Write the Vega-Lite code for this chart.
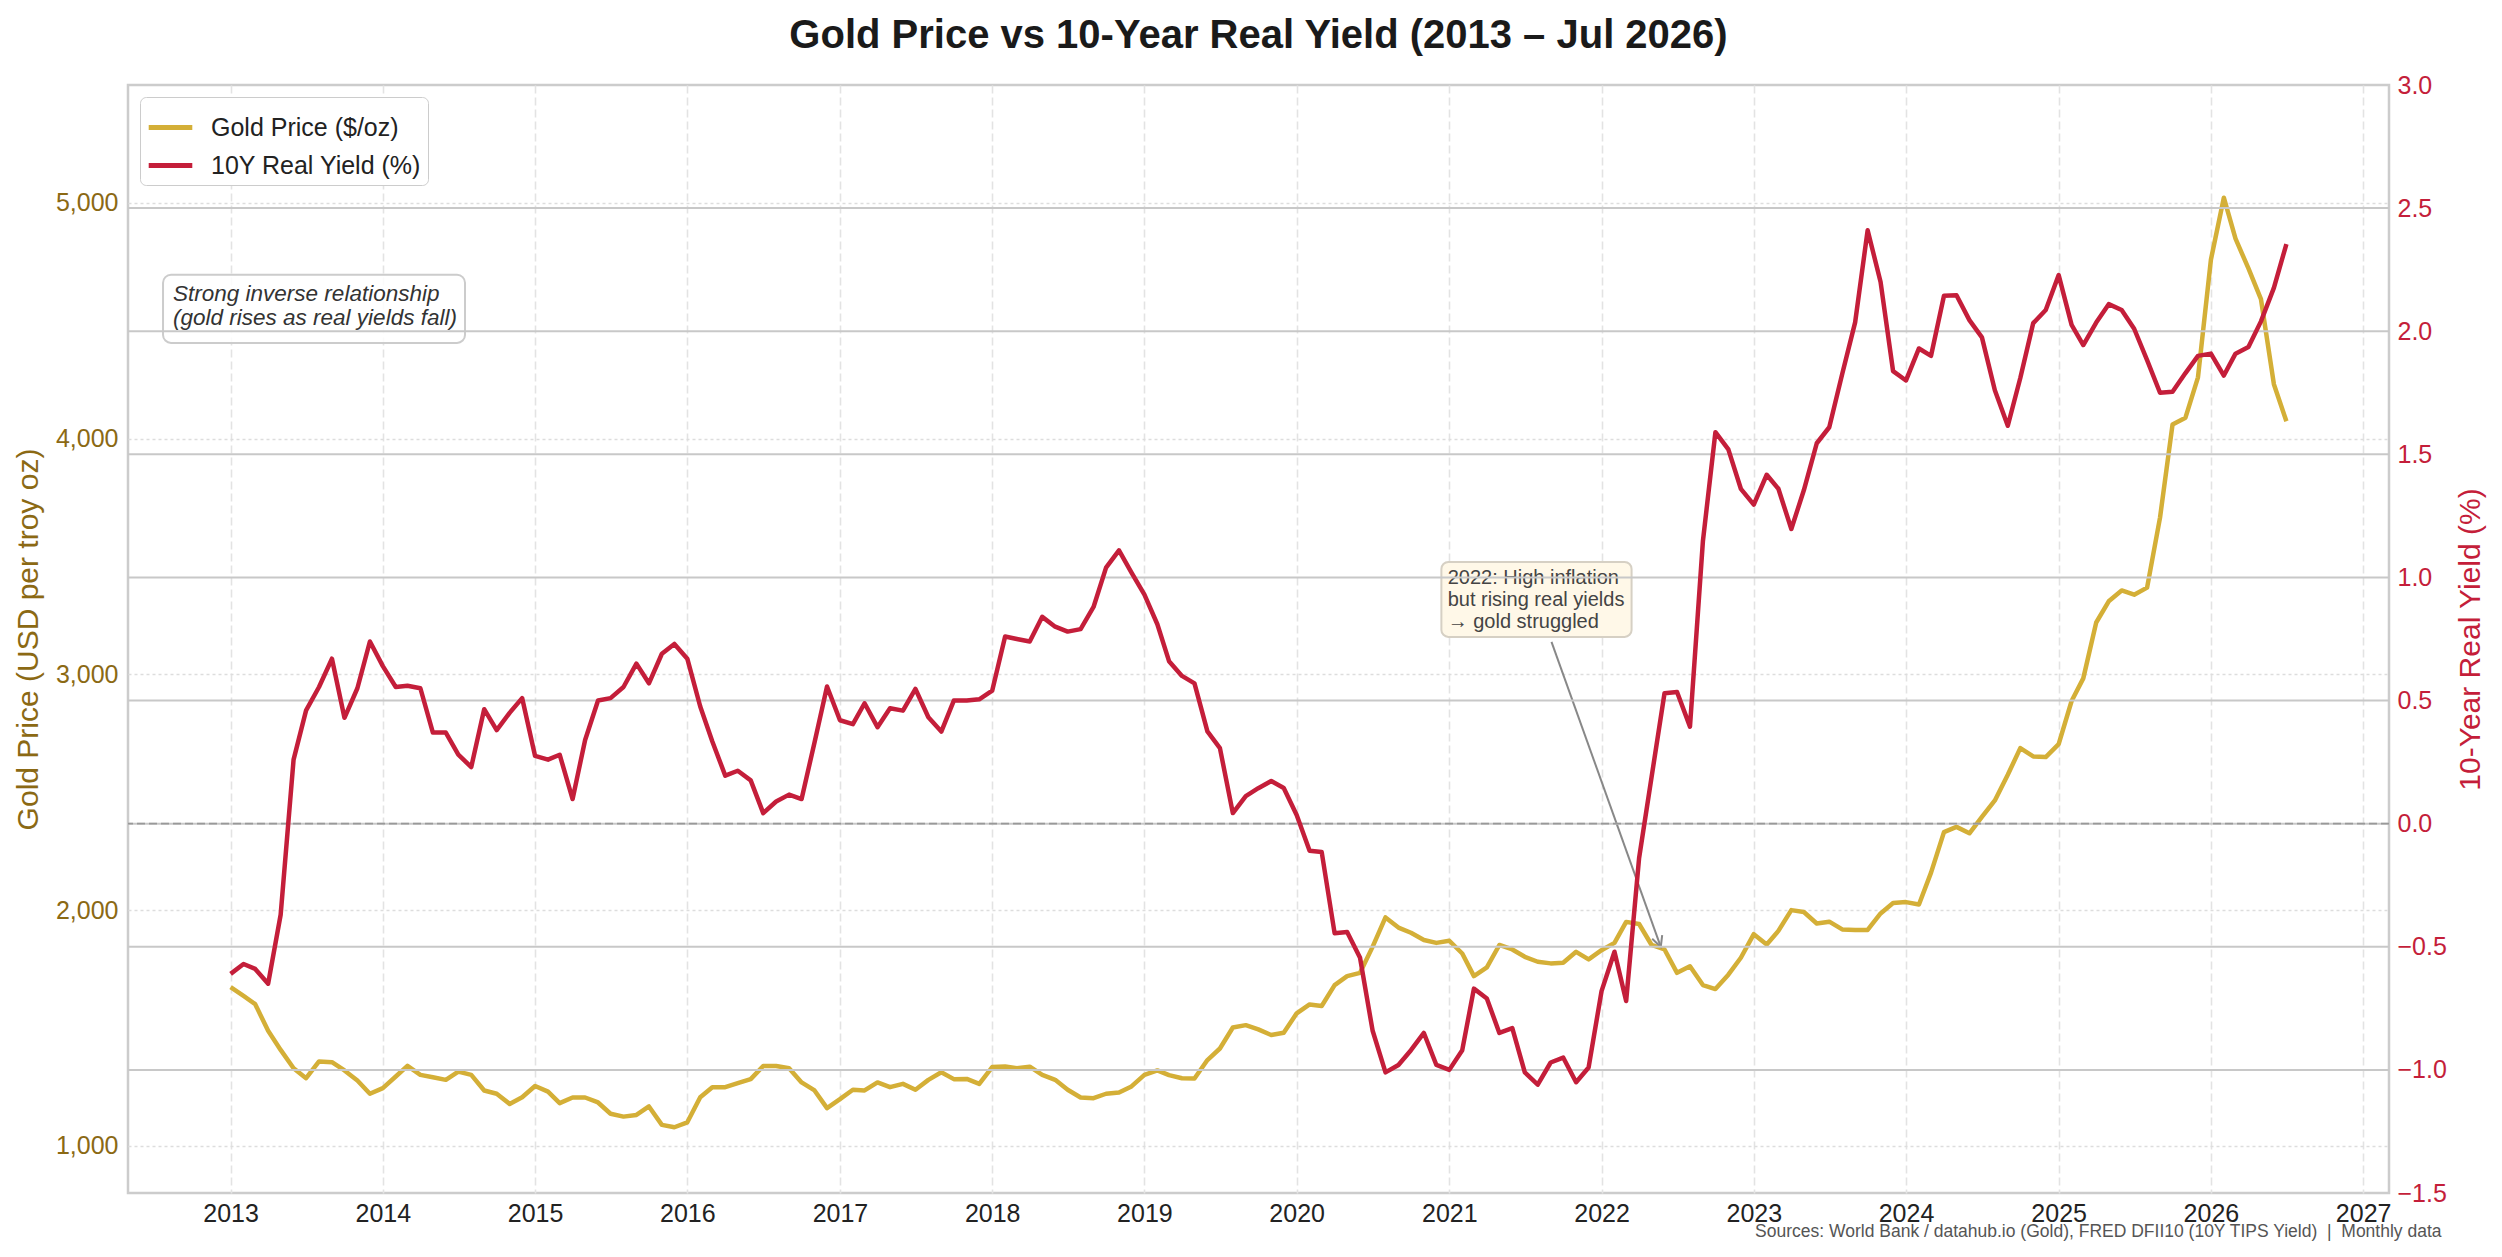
{
  "$schema": "https://vega.github.io/schema/vega-lite/v6.json",
  "width": 2261,
  "height": 1108,
  "autosize": {"type": "none"},
  "padding": {"left": 128, "top": 85, "right": 113, "bottom": 64},
  "background": "white",
  "title": {
    "text": "Gold Price vs 10-Year Real Yield (2013 – Jul 2026)",
    "font": "Liberation Sans",
    "fontSize": 40,
    "fontWeight": "bold",
    "color": "#1a1a1a",
    "anchor": "middle",
    "frame": "group",
    "offset": 17
  },
  "config": {
    "font": "Liberation Sans",
    "view": {"stroke": "#cccccc", "strokeWidth": 2.5},
    "axis": {
      "domain": false,
      "ticks": false,
      "labelFontSize": 25,
      "labelPadding": 8,
      "labelFlush": false,
      "titleFontSize": 30,
      "titleFontWeight": "normal",
      "grid": false
    }
  },
  "data": {
    "values": [
      {"date": "2013/01/01", "gold": 1673, "yld": -0.61},
      {"date": "2013/02/01", "gold": 1636, "yld": -0.57},
      {"date": "2013/03/01", "gold": 1601, "yld": -0.59},
      {"date": "2013/04/01", "gold": 1488, "yld": -0.65},
      {"date": "2013/05/01", "gold": 1407, "yld": -0.37},
      {"date": "2013/06/01", "gold": 1329, "yld": 0.26},
      {"date": "2013/07/01", "gold": 1287, "yld": 0.46},
      {"date": "2013/08/01", "gold": 1358, "yld": 0.555},
      {"date": "2013/09/01", "gold": 1355, "yld": 0.67},
      {"date": "2013/10/01", "gold": 1320, "yld": 0.43},
      {"date": "2013/11/01", "gold": 1277, "yld": 0.55},
      {"date": "2013/12/01", "gold": 1221, "yld": 0.74},
      {"date": "2014/01/01", "gold": 1245, "yld": 0.64},
      {"date": "2014/02/01", "gold": 1294, "yld": 0.555},
      {"date": "2014/03/01", "gold": 1339, "yld": 0.56},
      {"date": "2014/04/01", "gold": 1301, "yld": 0.55},
      {"date": "2014/05/01", "gold": 1291, "yld": 0.37},
      {"date": "2014/06/01", "gold": 1280, "yld": 0.37},
      {"date": "2014/07/01", "gold": 1315, "yld": 0.28},
      {"date": "2014/08/01", "gold": 1301, "yld": 0.23},
      {"date": "2014/09/01", "gold": 1235, "yld": 0.465},
      {"date": "2014/10/01", "gold": 1221, "yld": 0.38},
      {"date": "2014/11/01", "gold": 1178, "yld": 0.45},
      {"date": "2014/12/01", "gold": 1206, "yld": 0.51},
      {"date": "2015/01/01", "gold": 1254, "yld": 0.275},
      {"date": "2015/02/01", "gold": 1230, "yld": 0.26},
      {"date": "2015/03/01", "gold": 1181, "yld": 0.28},
      {"date": "2015/04/01", "gold": 1205, "yld": 0.1},
      {"date": "2015/05/01", "gold": 1205, "yld": 0.34},
      {"date": "2015/06/01", "gold": 1184, "yld": 0.5},
      {"date": "2015/07/01", "gold": 1136, "yld": 0.51},
      {"date": "2015/08/01", "gold": 1124, "yld": 0.555},
      {"date": "2015/09/01", "gold": 1131, "yld": 0.65},
      {"date": "2015/10/01", "gold": 1167, "yld": 0.57},
      {"date": "2015/11/01", "gold": 1089, "yld": 0.69},
      {"date": "2015/12/01", "gold": 1079, "yld": 0.73},
      {"date": "2016/01/01", "gold": 1100, "yld": 0.67},
      {"date": "2016/02/01", "gold": 1206, "yld": 0.476},
      {"date": "2016/03/01", "gold": 1249, "yld": 0.334},
      {"date": "2016/04/01", "gold": 1249, "yld": 0.195},
      {"date": "2016/05/01", "gold": 1266, "yld": 0.215},
      {"date": "2016/06/01", "gold": 1283, "yld": 0.176},
      {"date": "2016/07/01", "gold": 1339, "yld": 0.043},
      {"date": "2016/08/01", "gold": 1339, "yld": 0.09},
      {"date": "2016/09/01", "gold": 1329, "yld": 0.118},
      {"date": "2016/10/01", "gold": 1269, "yld": 0.1},
      {"date": "2016/11/01", "gold": 1235, "yld": 0.33},
      {"date": "2016/12/01", "gold": 1160, "yld": 0.557},
      {"date": "2017/01/01", "gold": 1198, "yld": 0.42},
      {"date": "2017/02/01", "gold": 1238, "yld": 0.404},
      {"date": "2017/03/01", "gold": 1235, "yld": 0.489},
      {"date": "2017/04/01", "gold": 1269, "yld": 0.392},
      {"date": "2017/05/01", "gold": 1249, "yld": 0.469},
      {"date": "2017/06/01", "gold": 1263, "yld": 0.459},
      {"date": "2017/07/01", "gold": 1238, "yld": 0.547},
      {"date": "2017/08/01", "gold": 1280, "yld": 0.432},
      {"date": "2017/09/01", "gold": 1312, "yld": 0.374},
      {"date": "2017/10/01", "gold": 1283, "yld": 0.5},
      {"date": "2017/11/01", "gold": 1284, "yld": 0.5},
      {"date": "2017/12/01", "gold": 1263, "yld": 0.505},
      {"date": "2018/01/01", "gold": 1334, "yld": 0.54},
      {"date": "2018/02/01", "gold": 1337, "yld": 0.76},
      {"date": "2018/03/01", "gold": 1329, "yld": 0.75},
      {"date": "2018/04/01", "gold": 1336, "yld": 0.74},
      {"date": "2018/05/01", "gold": 1301, "yld": 0.84},
      {"date": "2018/06/01", "gold": 1280, "yld": 0.8},
      {"date": "2018/07/01", "gold": 1238, "yld": 0.78},
      {"date": "2018/08/01", "gold": 1205, "yld": 0.79},
      {"date": "2018/09/01", "gold": 1202, "yld": 0.88},
      {"date": "2018/10/01", "gold": 1221, "yld": 1.04},
      {"date": "2018/11/01", "gold": 1226, "yld": 1.11},
      {"date": "2018/12/01", "gold": 1252, "yld": 1.02},
      {"date": "2019/01/01", "gold": 1301, "yld": 0.93},
      {"date": "2019/02/01", "gold": 1320, "yld": 0.81},
      {"date": "2019/03/01", "gold": 1300, "yld": 0.66},
      {"date": "2019/04/01", "gold": 1287, "yld": 0.6},
      {"date": "2019/05/01", "gold": 1286, "yld": 0.57},
      {"date": "2019/06/01", "gold": 1364, "yld": 0.375},
      {"date": "2019/07/01", "gold": 1413, "yld": 0.307},
      {"date": "2019/08/01", "gold": 1502, "yld": 0.043},
      {"date": "2019/09/01", "gold": 1512, "yld": 0.112},
      {"date": "2019/10/01", "gold": 1494, "yld": 0.144},
      {"date": "2019/11/01", "gold": 1470, "yld": 0.173},
      {"date": "2019/12/01", "gold": 1480, "yld": 0.145},
      {"date": "2020/01/01", "gold": 1562, "yld": 0.035},
      {"date": "2020/02/01", "gold": 1600, "yld": -0.11},
      {"date": "2020/03/01", "gold": 1593, "yld": -0.115},
      {"date": "2020/04/01", "gold": 1682, "yld": -0.445},
      {"date": "2020/05/01", "gold": 1720, "yld": -0.44},
      {"date": "2020/06/01", "gold": 1734, "yld": -0.545},
      {"date": "2020/07/01", "gold": 1844, "yld": -0.84},
      {"date": "2020/08/01", "gold": 1969, "yld": -1.01},
      {"date": "2020/09/01", "gold": 1926, "yld": -0.98},
      {"date": "2020/10/01", "gold": 1904, "yld": -0.92},
      {"date": "2020/11/01", "gold": 1873, "yld": -0.85},
      {"date": "2020/12/01", "gold": 1861, "yld": -0.98},
      {"date": "2021/01/01", "gold": 1870, "yld": -1.0},
      {"date": "2021/02/01", "gold": 1816, "yld": -0.92},
      {"date": "2021/03/01", "gold": 1720, "yld": -0.67},
      {"date": "2021/04/01", "gold": 1757, "yld": -0.71},
      {"date": "2021/05/01", "gold": 1852, "yld": -0.85},
      {"date": "2021/06/01", "gold": 1833, "yld": -0.83},
      {"date": "2021/07/01", "gold": 1802, "yld": -1.01},
      {"date": "2021/08/01", "gold": 1781, "yld": -1.06},
      {"date": "2021/09/01", "gold": 1774, "yld": -0.97},
      {"date": "2021/10/01", "gold": 1777, "yld": -0.95},
      {"date": "2021/11/01", "gold": 1823, "yld": -1.05},
      {"date": "2021/12/01", "gold": 1791, "yld": -0.99},
      {"date": "2022/01/01", "gold": 1830, "yld": -0.68},
      {"date": "2022/02/01", "gold": 1861, "yld": -0.52},
      {"date": "2022/03/01", "gold": 1950, "yld": -0.72},
      {"date": "2022/04/01", "gold": 1941, "yld": -0.14},
      {"date": "2022/05/01", "gold": 1852, "yld": 0.19},
      {"date": "2022/06/01", "gold": 1833, "yld": 0.53},
      {"date": "2022/07/01", "gold": 1734, "yld": 0.535},
      {"date": "2022/08/01", "gold": 1762, "yld": 0.394},
      {"date": "2022/09/01", "gold": 1682, "yld": 1.147},
      {"date": "2022/10/01", "gold": 1665, "yld": 1.59},
      {"date": "2022/11/01", "gold": 1726, "yld": 1.52},
      {"date": "2022/12/01", "gold": 1798, "yld": 1.36},
      {"date": "2023/01/01", "gold": 1898, "yld": 1.296},
      {"date": "2023/02/01", "gold": 1854, "yld": 1.417},
      {"date": "2023/03/01", "gold": 1912, "yld": 1.36},
      {"date": "2023/04/01", "gold": 2000, "yld": 1.197},
      {"date": "2023/05/01", "gold": 1992, "yld": 1.354},
      {"date": "2023/06/01", "gold": 1943, "yld": 1.545},
      {"date": "2023/07/01", "gold": 1951, "yld": 1.61},
      {"date": "2023/08/01", "gold": 1918, "yld": 1.826},
      {"date": "2023/09/01", "gold": 1916, "yld": 2.036},
      {"date": "2023/10/01", "gold": 1916, "yld": 2.41},
      {"date": "2023/11/01", "gold": 1986, "yld": 2.2},
      {"date": "2023/12/01", "gold": 2030, "yld": 1.838},
      {"date": "2024/01/01", "gold": 2034, "yld": 1.8},
      {"date": "2024/02/01", "gold": 2024, "yld": 1.93},
      {"date": "2024/03/01", "gold": 2159, "yld": 1.9},
      {"date": "2024/04/01", "gold": 2331, "yld": 2.144},
      {"date": "2024/05/01", "gold": 2353, "yld": 2.146},
      {"date": "2024/06/01", "gold": 2326, "yld": 2.045},
      {"date": "2024/07/01", "gold": 2395, "yld": 1.975},
      {"date": "2024/08/01", "gold": 2465, "yld": 1.76},
      {"date": "2024/09/01", "gold": 2574, "yld": 1.616},
      {"date": "2024/10/01", "gold": 2687, "yld": 1.81},
      {"date": "2024/11/01", "gold": 2652, "yld": 2.033},
      {"date": "2024/12/01", "gold": 2649, "yld": 2.086},
      {"date": "2025/01/01", "gold": 2704, "yld": 2.228},
      {"date": "2025/02/01", "gold": 2887, "yld": 2.026},
      {"date": "2025/03/01", "gold": 2983, "yld": 1.944},
      {"date": "2025/04/01", "gold": 3220, "yld": 2.035},
      {"date": "2025/05/01", "gold": 3310, "yld": 2.11},
      {"date": "2025/06/01", "gold": 3356, "yld": 2.086},
      {"date": "2025/07/01", "gold": 3338, "yld": 2.01},
      {"date": "2025/08/01", "gold": 3368, "yld": 1.883},
      {"date": "2025/09/01", "gold": 3665, "yld": 1.75},
      {"date": "2025/10/01", "gold": 4060, "yld": 1.754},
      {"date": "2025/11/01", "gold": 4089, "yld": 1.83},
      {"date": "2025/12/01", "gold": 4260, "yld": 1.9},
      {"date": "2026/01/01", "gold": 4759, "yld": 1.909},
      {"date": "2026/02/01", "gold": 5022, "yld": 1.82},
      {"date": "2026/03/01", "gold": 4848, "yld": 1.909},
      {"date": "2026/04/01", "gold": 4722, "yld": 1.936},
      {"date": "2026/05/01", "gold": 4592, "yld": 2.04},
      {"date": "2026/06/01", "gold": 4231, "yld": 2.176},
      {"date": "2026/07/01", "gold": 4074, "yld": 2.354}
    ]
  },
  "layer": [
    {
      "layer": [
        {
          "mark": {"type": "line", "strokeWidth": 4.5, "strokeJoin": "round"},
          "encoding": {
            "x": {
              "field": "date",
              "type": "temporal",
              "scale": {"domain": ["2012/04/30", "2027/03/04"]},
              "axis": {
                "format": "%Y",
                "tickCount": {"interval": "year", "step": 1},
                "labelColor": "#222222",
                "grid": true,
                "gridColor": "#e3e3e3",
                "gridDash": [8, 4],
                "gridWidth": 1.6,
                "title": "Sources: World Bank / datahub.io (Gold), FRED DFII10 (10Y TIPS Yield) \u00a0|\u00a0 Monthly data",
                "titleFontSize": 17.5,
                "titleColor": "#555555",
                "titleX": 2313,
                "titleY": 43,
                "titleAlign": "right",
                "titleBaseline": "alphabetic",
                "titleAnchor": "end"
              }
            },
            "y": {
              "field": "gold",
              "type": "quantitative",
              "scale": {"domain": [800, 5500], "nice": false, "zero": false},
              "axis": {
                "orient": "left",
                "values": [1000, 2000, 3000, 4000, 5000],
                "format": ",.0f",
                "labelColor": "#8B6914",
                "labelPadding": 10,
                "title": "Gold Price (USD per troy oz)",
                "titleColor": "#8B6914",
                "titlePadding": 12,
                "grid": true,
                "gridColor": "#dddddd",
                "gridDash": [3, 3],
                "gridWidth": 1.5
              }
            },
            "color": {
              "datum": "Gold Price ($/oz)",
              "scale": {"domain": ["Gold Price ($/oz)", "10Y Real Yield (%)"], "range": ["#D4AF37", "#C41E3A"]},
              "legend": {
                "orient": "top-left",
                "offset": 12,
                "title": null,
                "fillColor": "white",
                "strokeColor": "#cccccc",
                "cornerRadius": 6,
                "padding": 6,
                "labelFontSize": 25,
                "labelColor": "#222222",
                "labelLimit": 500,
                "labelOffset": 16,
                "symbolType": "stroke",
                "symbolStrokeWidth": 5,
                "symbolSize": 1900,
                "rowPadding": -10
              }
            }
          }
        },
        {
          "data": {"values": [{"x": "2012/07/23", "x2": "2014/07/17", "y": 4695, "y2": 4406}]},
          "mark": {"type": "rect", "fill": "white", "fillOpacity": 0.85, "stroke": "#cccccc", "strokeWidth": 2, "cornerRadius": 8},
          "encoding": {
            "x": {"field": "x", "type": "temporal"},
            "x2": {"field": "x2"},
            "y": {"field": "y", "type": "quantitative"},
            "y2": {"field": "y2"}
          }
        },
        {
          "data": {"values": [{"x": "2012/08/16", "y": 4660, "label": ["Strong inverse relationship", "(gold rises as real yields fall)"]}]},
          "mark": {
            "type": "text",
            "align": "left",
            "baseline": "top",
            "fontSize": 22.5,
            "fontStyle": "italic",
            "color": "#333333",
            "lineHeight": 24
          },
          "encoding": {
            "x": {"field": "x", "type": "temporal"},
            "y": {"field": "y", "type": "quantitative"},
            "text": {"field": "label"}
          }
        },
        {
          "data": {"values": [{"x": "2020/12/13", "x2": "2022/03/14", "y": 3477, "y2": 3159}]},
          "mark": {"type": "rect", "fill": "#FFF8E8", "stroke": "#d6d0c4", "strokeWidth": 2, "cornerRadius": 7},
          "encoding": {
            "x": {"field": "x", "type": "temporal"},
            "x2": {"field": "x2"},
            "y": {"field": "y", "type": "quantitative"},
            "y2": {"field": "y2"}
          }
        },
        {
          "data": {"values": [{"x": "2020/12/28", "y": 3450, "label": ["2022: High inflation", "but rising real yields", "→ gold struggled"]}]},
          "mark": {
            "type": "text",
            "align": "left",
            "baseline": "top",
            "fontSize": 20,
            "color": "#444444",
            "lineHeight": 22
          },
          "encoding": {
            "x": {"field": "x", "type": "temporal"},
            "y": {"field": "y", "type": "quantitative"},
            "text": {"field": "label"}
          }
        },
        {
          "data": {"values": [{"x": "2021/09/03", "x2": "2022/05/23", "y": 3138, "y2": 1844}]},
          "mark": {"type": "rule", "color": "#888888", "strokeWidth": 2},
          "encoding": {
            "x": {"field": "x", "type": "temporal"},
            "x2": {"field": "x2"},
            "y": {"field": "y", "type": "quantitative"},
            "y2": {"field": "y2"}
          }
        },
        {
          "data": {"values": [{"x": "2022/05/23", "y": 1844}]},
          "mark": {
            "type": "point",
            "shape": "M-0.5,1L0,0L0.5,1",
            "filled": false,
            "stroke": "#888888",
            "strokeWidth": 2,
            "size": 450,
            "angle": 160.3,
            "opacity": 1
          },
          "encoding": {
            "x": {"field": "x", "type": "temporal"},
            "y": {"field": "y", "type": "quantitative"}
          }
        }
      ]
    },
    {
      "layer": [
        {
          "data": {"values": [{"v": -1.0}, {"v": -0.5}, {"v": 0.0}, {"v": 0.5}, {"v": 1.0}, {"v": 1.5}, {"v": 2.0}, {"v": 2.5}]},
          "mark": {"type": "rule", "color": "#c8c8c8", "strokeWidth": 2},
          "encoding": {
            "y": {"field": "v", "type": "quantitative"}
          }
        },
        {
          "data": {"values": [{"v": 0}]},
          "mark": {"type": "rule", "color": "#999999", "strokeWidth": 1.8, "strokeDash": [8, 4]},
          "encoding": {
            "y": {"field": "v", "type": "quantitative"}
          }
        },
        {
          "mark": {"type": "line", "strokeWidth": 4.5, "strokeJoin": "round"},
          "encoding": {
            "x": {"field": "date", "type": "temporal"},
            "y": {
              "field": "yld",
              "type": "quantitative",
              "scale": {"domain": [-1.5, 3.0], "nice": false, "zero": false},
              "axis": {
                "orient": "right",
                "values": [-1.5, -1.0, -0.5, 0.0, 0.5, 1.0, 1.5, 2.0, 2.5, 3.0],
                "format": ".1f",
                "labelColor": "#C41E3A",
                "labelPadding": 8,
                "title": "10-Year Real Yield (%)",
                "titleColor": "#C41E3A",
                "titleAngle": 270,
                "titleBaseline": "top",
                "titlePadding": 9,
                "grid": false
              }
            },
            "color": {"datum": "10Y Real Yield (%)"}
          }
        }
      ]
    }
  ],
  "resolve": {"scale": {"y": "independent"}}
}
